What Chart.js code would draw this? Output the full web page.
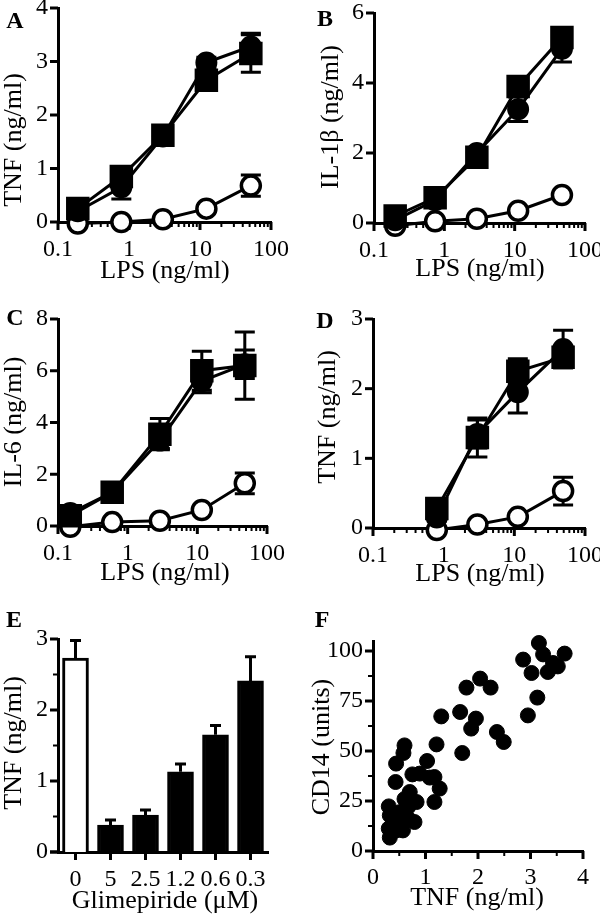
<!DOCTYPE html>
<html>
<head>
<meta charset="utf-8">
<script src="https://cdn.jsdelivr.net/npm/chart.js@4.4.1/dist/chart.umd.min.js"></script>
<style>
  html, body { margin: 0; padding: 0; background: #fff; overflow: hidden; }
  #fig { position: relative; width: 600px; height: 916px; overflow: hidden; background: #fff;
         font-family: "Liberation Serif", "Times New Roman", serif; color: #000; }
  #fig canvas { position: absolute; }
  .lbl { position: absolute; white-space: nowrap; font-size: 26px; line-height: 1; transform: translate(-50%, -50%); }
  .lbl.rot { transform: translate(-50%, -50%) rotate(-90deg); }
  .tag { position: absolute; font-size: 24px; font-weight: bold; line-height: 1; transform: translate(-50%, -50%); }
</style>
</head>
<body>
<div id="fig"></div>
<script>
// ---- data ----
// LPS doses (ng/ml) per panel
const lpsA = [0.19, 0.78, 3.0, 12.3, 52];
const lpsB = [0.2, 0.74, 2.9, 11.2, 47];
const lpsC = [0.15, 0.6, 2.9, 11.6, 48];
const lpsD = [0.8, 3.0, 11.2, 49];

// A: TNF
const aSquare = [0.25, 0.85, 1.62, 2.65, 3.15];
const aSquareErr = [0.05, 0.1, 0.1, 0.1, 0.35];
const aDot = [0.2, 0.65, 1.6, 2.98, 3.28];
const aDotErr = [0.05, 0.22, 0.15, 0.1, 0.25];
const aOpen = [-0.03, 0, 0.05, 0.25, 0.68];
const aOpenErr = [0, 0, 0.05, 0.05, 0.2];

// B: IL-1beta
const bSquare = [0.2, 0.72, 1.88, 3.9, 5.3];
const bSquareErr = [0.05, 0.1, 0.1, 0.2, 0.2];
const bDot = [0.08, 0.65, 2.0, 3.25, 4.98];
const bDotErr = [0.05, 0.1, 0.1, 0.35, 0.38];
const bOpen = [-0.08, 0.05, 0.12, 0.35, 0.8];
const bOpenErr = [0, 0.05, 0.05, 0.05, 0.05];

// C: IL-6
const cSquare = [0.4, 1.3, 3.55, 6.0, 6.2];
const cSquareErr = [0.1, 0.1, 0.6, 0.75, 1.3];
const cDot = [0.5, 1.3, 3.3, 5.6, 6.25];
const cDotErr = [0.1, 0.1, 0.3, 0.45, 0.55];
const cOpen = [-0.03, 0.15, 0.2, 0.62, 1.65];
const cOpenErr = [0, 0, 0.05, 0.1, 0.4];

// D: TNF
const dSquare = [0.28, 1.3, 2.25, 2.45];
const dSquareErr = [0.05, 0.28, 0.18, 0.15];
const dDot = [0.15, 1.35, 1.95, 2.57];
const dDotErr = [0.05, 0.2, 0.3, 0.27];
const dOpen = [-0.03, 0.05, 0.16, 0.53];
const dOpenErr = [0, 0.03, 0.05, 0.2];

// E: TNF vs glimepiride
const glimLabels = ['0', '5', '2.5', '1.2', '0.6', '0.3'];
const glimTnf = [2.73, 0.38, 0.52, 1.13, 1.65, 2.41];
const glimErr = [0.25, 0.07, 0.07, 0.11, 0.13, 0.34];

// F: CD14 vs TNF
const fTnf = [3.16, 2.86, 3.24, 3.43, 3.65, 3.02, 3.33, 3.52, 3.13, 2.95,
              1.78, 2.04, 2.24, 1.66, 1.96, 1.87, 1.70, 2.36, 2.49, 1.30,
              1.21, 0.60, 0.58, 0.44, 1.03, 0.89, 1.08, 1.17, 1.27, 1.17,
              0.75, 0.43, 0.70, 0.83, 0.60, 0.30, 0.32, 0.52, 0.67, 0.79,
              0.30, 0.44, 0.32, 0.51, 0.57, 0.38, 0.67];
const fCd14 = [104, 95.7, 98.3, 94, 98.7, 89, 89.5, 92.3, 76.7, 67.8,
               81.7, 86.2, 81.7, 69.5, 66.2, 61.2, 49, 59.5, 54.5, 67.3,
               53.3, 52.8, 49, 43.7, 45, 38.7, 36.7, 37, 31.2, 24.5,
               38.3, 34.5, 29.5, 24.5, 26, 22.3, 17.8, 19.5, 16.2, 14.5,
               11.2, 10.3, 6.7, 14, 10.3, 15.3, 22];

// tick values
const logMajor = [0.1, 1, 10, 100];
const logMinor = [0.2, 0.3, 0.4, 0.5, 0.6, 0.7, 0.8, 0.9, 2, 3, 4, 5, 6, 7, 8, 9, 20, 30, 40, 50, 60, 70, 80, 90];
const yTicksA = [0, 1, 2, 3, 4];
const yTicksB = [0, 2, 4, 6];
const yTicksC = [0, 2, 4, 6, 8];
const yTicksD = [0, 1, 2, 3];
const yTicksE = [0, 1, 2, 3];
const yMinorE = [0.5, 1.5, 2.5];
const xTicksF = [0, 1, 2, 3, 4];
const xMinorF = [0.5, 1.5, 2.5, 3.5];
const yTicksF = [0, 25, 50, 75, 100];
const yMinorF = [12.5, 37.5, 62.5, 87.5];

// ---- drawing ----
const fig = document.getElementById('fig');
const tickFont = { family: 'Liberation Serif', size: 24 };

// own tick marks so minor ticks can be shorter
const tickMarks = {
  id: 'tickMarks',
  beforeDatasetsDraw(chart, args, opts) {
    const ctx = chart.ctx;
    ctx.save();
    ctx.strokeStyle = '#000';
    Object.values(chart.scales).forEach(scale => {
      scale.ticks.forEach((t, i) => {
        const p = scale.getPixelForTick(i);
        const len = t.minor ? 5 : 8;
        ctx.lineWidth = t.minor ? 2 : 3;
        ctx.beginPath();
        if (scale.isHorizontal()) {
          ctx.moveTo(p, scale.top);
          ctx.lineTo(p, scale.top + len);
        } else {
          ctx.moveTo(scale.right, p);
          ctx.lineTo(scale.right - len, p);
        }
        ctx.stroke();
      });
    });
    // x axis sticking out to the left of the y axis (panel E)
    if (opts.xStub) {
      const a = chart.chartArea;
      ctx.lineWidth = 3;
      ctx.beginPath();
      ctx.moveTo(a.left - opts.xStub, a.bottom);
      ctx.lineTo(a.left, a.bottom);
      ctx.stroke();
    }
    ctx.restore();
  }
};

const errorBars = {
  id: 'errorBars',
  beforeDatasetsDraw(chart) {
    const ctx = chart.ctx, y = chart.scales.y;
    ctx.save();
    ctx.strokeStyle = '#000';
    ctx.lineWidth = 3;
    chart.data.datasets.forEach((ds, i) => {
      if (!ds.errors) return;
      chart.getDatasetMeta(i).data.forEach((el, j) => {
        const d = ds.data[j];
        const v = typeof d === 'object' ? d.y : d;
        const e = ds.errors[j];
        if (!e) return;
        const top = y.getPixelForValue(v + e);
        const bot = y.getPixelForValue(ds.upOnly ? v : v - e);
        const w = ds.capWidth / 2;
        ctx.beginPath();
        ctx.moveTo(el.x, top); ctx.lineTo(el.x, bot);
        ctx.moveTo(el.x - w, top); ctx.lineTo(el.x + w, top);
        if (!ds.upOnly) { ctx.moveTo(el.x - w, bot); ctx.lineTo(el.x + w, bot); }
        ctx.stroke();
      });
    });
    ctx.restore();
  }
};

function setTicks(major, minor) {
  return scale => {
    scale.ticks = major.map(v => ({ value: v }))
      .concat((minor || []).map(v => ({ value: v, minor: true })));
  };
}

function axis(opts, padding) {
  return Object.assign({
    grid: { display: false, drawTicks: false },
    border: { color: '#000', width: 3 },
    ticks: {
      font: tickFont, color: '#000', autoSkip: false, maxRotation: 0, minRotation: 0, padding: padding,
      callback: function (v, i, ticks) {
        if (ticks[i].minor) return '';
        return this.type === 'category' ? this.getLabelForValue(v) : String(v);
      }
    }
  }, opts);
}

function makeCanvas(box) {
  const c = document.createElement('canvas');
  c.width = box[2];
  c.height = box[3];
  c.style.left = box[0] + 'px';
  c.style.top = box[1] + 'px';
  fig.appendChild(c);
  return c;
}

function frame(box, area) {
  const [cx, cy, cw, ch] = box;
  const [L, T, R, B] = area;
  return {
    padding: { left: 0, top: T - cy, right: cx + cw - R, bottom: 0 },
    yWidth: L - cx,
    xHeight: cy + ch - B
  };
}

function pts(xs, ys) {
  return ys.map((y, i) => ({ x: xs[i], y: y }));
}

const markStyles = {
  square: { pointStyle: 'rect', pointRadius: 14.5, pointBackgroundColor: '#000', pointBorderColor: '#000', pointBorderWidth: 3 },
  dot: { pointStyle: 'circle', pointRadius: 9.5, pointBackgroundColor: '#000', pointBorderColor: '#000', pointBorderWidth: 3 },
  open: { pointStyle: 'circle', pointRadius: 9.5, pointBackgroundColor: '#fff', pointBorderColor: '#000', pointBorderWidth: 3.5 }
};

function linePanel(box, area, lps, series, yMax, yTicks) {
  const f = frame(box, area);
  const datasets = series.map(s => Object.assign({
    data: pts(lps, s.values),
    errors: s.errors,
    capWidth: 20,
    borderColor: '#000',
    borderWidth: 3,
    tension: 0,
    fill: false,
    clip: false
  }, markStyles[s.mark]));
  new Chart(makeCanvas(box), {
    type: 'line',
    data: { datasets: datasets },
    options: {
      responsive: false, animation: false, events: [],
      layout: { padding: f.padding },
      plugins: { legend: { display: false }, tooltip: { enabled: false } },
      scales: {
        x: axis({ type: 'logarithmic', min: 0.1, max: 100,
                  afterBuildTicks: setTicks(logMajor, logMinor),
                  afterFit: s => { s.height = f.xHeight; } }, 13),
        y: axis({ type: 'linear', min: 0, max: yMax,
                  afterBuildTicks: setTicks(yTicks),
                  afterFit: s => { s.width = f.yWidth; } }, 10)
      }
    },
    plugins: [tickMarks, errorBars]
  });
}

// A
linePanel([0, -20, 300, 290], [58, 8, 271, 222], lpsA, [
  { values: aSquare, errors: aSquareErr, mark: 'square' },
  { values: aDot, errors: aDotErr, mark: 'dot' },
  { values: aOpen, errors: aOpenErr, mark: 'open' }
], 4, yTicksA);

// B
linePanel([300, -20, 320, 290], [374, 13, 585, 223], lpsB, [
  { values: bSquare, errors: bSquareErr, mark: 'square' },
  { values: bDot, errors: bDotErr, mark: 'dot' },
  { values: bOpen, errors: bOpenErr, mark: 'open' }
], 6, yTicksB);

// C
linePanel([0, 280, 300, 290], [58, 319, 267, 526], lpsC, [
  { values: cSquare, errors: cSquareErr, mark: 'square' },
  { values: cDot, errors: cDotErr, mark: 'dot' },
  { values: cOpen, errors: cOpenErr, mark: 'open' }
], 8, yTicksC);

// D
linePanel([300, 280, 320, 290], [373, 319, 585, 528], lpsD, [
  { values: dSquare, errors: dSquareErr, mark: 'square' },
  { values: dDot, errors: dDotErr, mark: 'dot' },
  { values: dOpen, errors: dOpenErr, mark: 'open' }
], 3, yTicksD);

// E: bars
(function () {
  const box = [0, 610, 300, 300];
  const f = frame(box, [58, 639, 268, 852]);
  new Chart(makeCanvas(box), {
    type: 'bar',
    data: {
      labels: glimLabels,
      datasets: [{
        data: glimTnf,
        errors: glimErr,
        upOnly: true,
        capWidth: 11,
        backgroundColor: glimTnf.map((v, i) => i === 0 ? '#fff' : '#000'),
        borderColor: '#000',
        borderWidth: 3,
        barThickness: 26
      }]
    },
    options: {
      responsive: false, animation: false, events: [],
      layout: { padding: f.padding },
      plugins: { legend: { display: false }, tooltip: { enabled: false }, tickMarks: { xStub: 8 } },
      scales: {
        x: axis({ type: 'category', afterFit: s => { s.height = f.xHeight; } }, 13),
        y: axis({ type: 'linear', min: 0, max: 3,
                  afterBuildTicks: setTicks(yTicksE, yMinorE),
                  afterFit: s => { s.width = f.yWidth; } }, 10)
      }
    },
    plugins: [tickMarks, errorBars]
  });
})();

// F: scatter
(function () {
  const box = [300, 610, 320, 300];
  const f = frame(box, [373, 641, 583, 851]);
  new Chart(makeCanvas(box), {
    type: 'scatter',
    data: {
      datasets: [{
        data: pts(fTnf, fCd14),
        pointRadius: 7.5,
        pointBackgroundColor: '#000',
        pointBorderColor: '#000',
        pointBorderWidth: 1,
        clip: false
      }]
    },
    options: {
      responsive: false, animation: false, events: [],
      layout: { padding: f.padding },
      plugins: { legend: { display: false }, tooltip: { enabled: false } },
      scales: {
        x: axis({ type: 'linear', min: 0, max: 4,
                  afterBuildTicks: setTicks(xTicksF, xMinorF),
                  afterFit: s => { s.height = f.xHeight; } }, 12),
        y: axis({ type: 'linear', min: 0, max: 105,
                  afterBuildTicks: setTicks(yTicksF, yMinorF),
                  afterFit: s => { s.width = f.yWidth; } }, 10)
      }
    },
    plugins: [tickMarks]
  });
})();

// axis titles and panel letters
function text(cls, str, x, y) {
  const d = document.createElement('div');
  d.className = cls;
  d.textContent = str;
  d.style.left = x + 'px';
  d.style.top = y + 'px';
  fig.appendChild(d);
}
text('lbl', 'LPS (ng/ml)', 165, 270);
text('lbl', 'LPS (ng/ml)', 480, 268);
text('lbl', 'LPS (ng/ml)', 165, 572);
text('lbl', 'LPS (ng/ml)', 480, 573);
text('lbl', 'Glimepiride (\u03bcM)', 165, 900);
text('lbl', 'TNF (ng/ml)', 477, 897);
text('lbl rot', 'TNF (ng/ml)', 13, 140);
text('lbl rot', 'IL-1\u03b2 (ng/ml)', 330, 117);
text('lbl rot', 'IL-6 (ng/ml)', 13, 422);
text('lbl rot', 'TNF (ng/ml)', 327, 417);
text('lbl rot', 'TNF (ng/ml)', 13, 743);
text('lbl rot', 'CD14 (units)', 321, 747);
text('tag', 'A', 15, 20);
text('tag', 'B', 325, 18);
text('tag', 'C', 15, 317);
text('tag', 'D', 325, 320);
text('tag', 'E', 14, 619);
text('tag', 'F', 322, 619);
</script>
</body>
</html>
